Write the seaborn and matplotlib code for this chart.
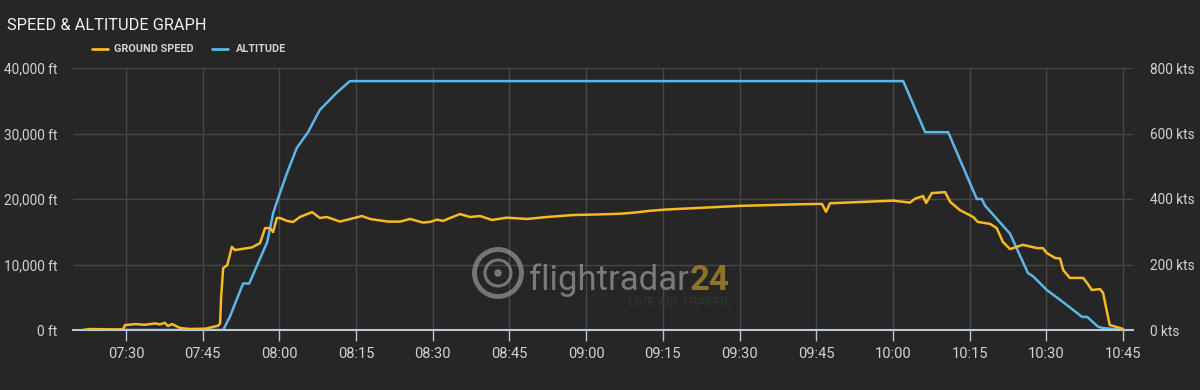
import numpy as np
import pandas as pd
import matplotlib
matplotlib.use("Agg")
import matplotlib.pyplot as plt
import matplotlib.dates as mdates
from matplotlib.lines import Line2D
from matplotlib.patches import Circle
import seaborn as sns

# ---- data (minutes after 07:00) ----
speed_min = [21.6, 23.0, 26.9, 29.4, 29.8, 31.8, 33.7, 35.7, 36.6, 37.6, 38.2, 39.0, 40.6, 42.5,
             45.5, 48.0, 48.4, 48.6, 49.0, 49.8, 50.7, 51.3, 53.7, 54.6, 56.2, 57.2, 58.2, 58.75,
             59.5, 60.1, 61.5, 62.7, 64.0, 66.4, 67.9, 69.3, 71.85, 76.16, 77.72, 81.24, 83.59,
             85.54, 88.09, 89.46, 90.83, 92.0, 93.37, 95.33, 97.28, 99.24, 101.58, 104.52, 108.43,
             112.34, 117.43, 122.71, 126.62, 129.16, 132.48, 135.81, 150.09, 161.82, 166.12,
             166.91, 167.69, 180.01, 183.33, 184.31, 185.9, 186.5, 187.6, 190.2, 191.2, 193.1,
             195.7, 196.6, 199.0, 200.3, 201.5, 202.9, 205.4, 208.2, 209.3, 210.1, 211.7, 212.7,
             213.3, 214.6, 217.2, 218.0, 218.9, 220.5, 221.1, 221.9, 222.4, 223.8, 225.0]
speed_kts = [0, 3, 2, 2, 15, 18, 16, 20, 17, 22, 12, 18, 6, 3,
             4, 13, 20, 100, 189, 198, 254, 244, 250, 252, 265, 311, 311, 299,
             342, 342, 333, 330, 345, 360, 342, 345, 331, 348, 339, 331, 331,
             339, 328, 330, 337, 333, 342, 354, 345, 348, 336, 343, 339,
             345, 351, 353, 355, 358, 364, 368, 379, 384, 385,
             361, 387, 395, 389, 401, 409, 388, 418, 421, 391, 366,
             345, 330, 324, 311, 269, 247, 260, 250, 250, 235, 220, 218,
             183, 159, 159, 143, 122, 125, 113, 52, 15, 9, 3]

alt_min = [21.6, 49.0, 50.3, 52.9, 54.1, 57.6, 58.8, 60.1, 61.5, 63.4, 65.6, 67.9, 69.3, 71.3,
           73.8, 182.0, 182.4, 186.3, 190.8, 196.4, 197.4, 198.0, 202.9, 206.4, 207.4, 210.1,
           212.7, 217.0, 218.0, 220.1, 221.1, 225.0]
alt_ft = [0, 0, 2000, 7100, 7100, 13400, 17900, 20900, 24000, 27800, 30200, 33600, 34700, 36300,
          38000, 38000, 37300, 30200, 30200, 20000, 20000, 19000, 14700, 8700, 8200, 6100,
          4600, 2000, 2000, 500, 300, 0]

alt_ticks = [0, 10000, 20000, 30000, 40000]
alt_labels = ["0 ft", "10,000 ft", "20,000 ft", "30,000 ft", "40,000 ft"]
spd_ticks = [0, 200, 400, 600, 800]
spd_labels = ["0 kts", "200 kts", "400 kts", "600 kts", "800 kts"]

base = pd.Timestamp("2024-01-01 07:00")
df_spd = pd.DataFrame({"t": base + pd.to_timedelta(speed_min, unit="m"), "v": speed_kts})
df_alt = pd.DataFrame({"t": base + pd.to_timedelta(alt_min, unit="m"), "v": alt_ft})

BG = "#262626"
GRID = "#474747"
TXT = "#d2d2d2"
YEL = "#f7b924"
BLU = "#5cb6e8"
WM = "#8a8a8a"

sns.set_theme(style="dark")
plt.rcParams["font.family"] = ["Roboto", "DejaVu Sans"]

W, H = 1200, 390
fig = plt.figure(figsize=(12, 3.9), dpi=100, facecolor=BG)
ax = fig.add_axes([73 / W, 1 - 330 / H, 1060 / W, 262 / H])
ax.set_facecolor(BG)
ax2 = ax.twinx()

# watermark (behind lines)
def px(x, y):
    return (x / W, 1 - y / H)

fig.add_artist(Circle((4.98, (H - 273) / 100), 0.235, transform=fig.dpi_scale_trans,
                      fill=False, edgecolor=WM, linewidth=3.5, alpha=0.8, zorder=1))
fig.add_artist(Circle((4.98, (H - 273) / 100), 0.13, transform=fig.dpi_scale_trans,
                      fill=False, edgecolor=WM, linewidth=2.2, alpha=0.8, zorder=1))
fig.add_artist(Circle((4.98, (H - 273) / 100), 0.03, transform=fig.dpi_scale_trans,
                      fill=True, facecolor=WM, edgecolor=WM, alpha=0.8, zorder=1))
t1 = fig.text(*px(529, 290), "flightradar", color=WM, alpha=0.85, fontsize=25,
              va="baseline", ha="left", zorder=1)
fig.canvas.draw()
bb = t1.get_window_extent()
fig.text(bb.x1 / W + 1 / W, 1 - 290 / H, "24", color="#96772a", alpha=0.95, fontsize=25,
         va="baseline", ha="left", fontweight="bold", zorder=1)
fig.text(*px(628, 303), "LIVE AIR TRAFFIC", color="#343434", fontsize=9.5, va="center", ha="left", zorder=1)

sns.lineplot(data=df_alt, x="t", y="v", ax=ax, color=BLU, linewidth=1.8, zorder=3)
sns.lineplot(data=df_spd, x="t", y="v", ax=ax2, color=YEL, linewidth=1.8, zorder=3)

xmin = base + pd.Timedelta(minutes=19.63)
xmax = base + pd.Timedelta(minutes=226.95)
ax.set_xlim(xmin, xmax)
ax.set_ylim(0, 40000)
ax2.set_ylim(0, 800)

ax.xaxis.set_major_locator(mdates.MinuteLocator(byminute=[0, 15, 30, 45]))
ax.xaxis.set_major_formatter(mdates.DateFormatter("%H:%M"))

ax.set_yticks(alt_ticks)
ax.set_yticklabels(alt_labels)
ax2.set_yticks(spd_ticks)
ax2.set_yticklabels(spd_labels)

for a in (ax, ax2):
    a.set_xlabel("")
    a.set_ylabel("")
    a.patch.set_alpha(0)
    for s in a.spines.values():
        s.set_visible(False)

ax.grid(True, color=GRID, linewidth=1.0)
ax2.grid(False)
ax.set_axisbelow(True)
ax.spines["bottom"].set_visible(True)
ax.spines["bottom"].set_color("#b8c8d8")
ax.spines["bottom"].set_linewidth(1.5)
ax.spines["bottom"].set_zorder(5)

ax.tick_params(axis="x", colors="#b8c8d8", labelcolor=TXT, labelsize=10.5, length=8, width=1,
               pad=4, direction="out", bottom=True)
ax.tick_params(axis="y", colors=TXT, labelsize=9.8, length=0, pad=11.5)
ax2.tick_params(axis="y", colors=TXT, labelsize=9.8, length=0, pad=12.5)

# title and legend
fig.text(*px(7, 25), "SPEED & ALTITUDE GRAPH", color="#f2f2f2", fontsize=11.8, va="center", ha="left")
fig.add_artist(Line2D([92 / W, 108 / W], [1 - 49 / H] * 2, color=YEL, linewidth=2))
fig.text(*px(114, 49), "GROUND SPEED", color=TXT, fontsize=7.8, fontweight="bold", va="center", ha="left")
fig.add_artist(Line2D([212 / W, 228 / W], [1 - 49 / H] * 2, color=BLU, linewidth=2))
fig.text(*px(236, 49), "ALTITUDE", color=TXT, fontsize=7.8, fontweight="bold", va="center", ha="left")

fig.savefig("out.png", dpi=100, facecolor=BG)
